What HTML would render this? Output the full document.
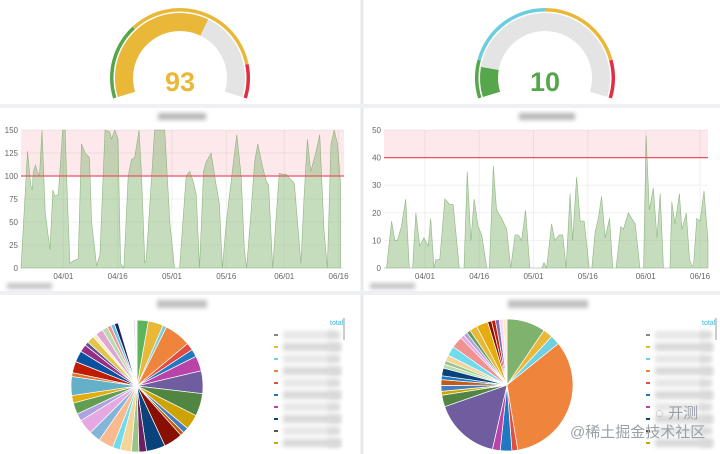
<!DOCTYPE html>
<html><head><meta charset="utf-8">
<style>
html,body{margin:0;padding:0;background:#fff;width:720px;height:454px;overflow:hidden;font-family:"Liberation Sans","Noto Sans CJK SC",sans-serif}
svg{position:absolute;left:0;top:0}
</style></head>
<body>
<svg id="dash" width="720" height="454" viewBox="0 0 720 454">
<defs><filter id="bl" x="-20%" y="-50%" width="140%" height="200%"><feGaussianBlur stdDeviation="2"/></filter></defs>
<rect x="0" y="0" width="720" height="454" fill="#fff"/>
<line x1="362" y1="0" x2="362" y2="454" stroke="#e6e8ec" stroke-width="3"/>
<rect x="0" y="104" width="720" height="4" fill="#eef0f3"/>
<rect x="0" y="291" width="720" height="4" fill="#eef0f3"/>
<g id="g-gauges"></g>
<g id="g-ts1"></g>
<g id="g-ts2"></g>
<g id="g-pies"></g>
<text x="570" y="437" font-size="15" fill="#9aa0a6">@稀土掘金技术社区</text>
<text x="655" y="418" font-size="15" fill="#9aa0a6">◌ 开测</text>
</svg>
<script>
// ---------- data ----------
const gauge1Value = [93];
const gauge1Max = [150];
const gauge1Thresholds = [0, 45, 130];
const gauge2Value = [10];
const gauge2Max = [80];
const gauge2Thresholds = [0, 12, 40, 68];

const ts1Days = [-11.7,-9.9,-9.0,-8.6,-8.3,-7.7,-7.2,-6.6,-5.9,-5.0,-3.7,-2.9,-2.3,-1.4,-0.7,-0.2,0.5,0.9,1.8,2.8,4.1,5.0,6.0,7.2,7.8,9.2,10.1,11.5,12.8,13.3,14.2,15.1,15.8,16.7,17.9,18.8,19.7,20.9,21.6,22.5,22.9,25.2,28.0,29.4,30.7,32.1,33.9,34.9,35.8,36.7,37.6,38.7,39.4,40.8,42.2,43.1,43.9,45.0,46.8,47.9,49.1,50.0,50.6,51.8,52.8,53.7,55.0,56.0,56.7,57.8,59.6,60.6,61.5,62.4,63.8,65.6,66.5,67.4,68.3,69.7,70.8,72.0,72.9,73.9,74.8,75.7,76.6];
const ts1Values = [0,127,90,85,105,112,105,100,150,60,20,85,78,80,120,150,150,100,5,8,10,135,125,120,50,2,15,150,148,140,150,140,5,0,100,118,120,150,100,5,10,150,150,50,0,0,100,105,95,80,0,105,115,125,90,70,0,50,110,145,100,20,0,60,115,135,110,95,90,0,103,102,102,98,92,5,80,140,105,125,145,40,0,135,150,135,90];
const ts2Days = [-11.3,-10.6,-9.2,-8.3,-7.6,-6.5,-5.3,-4.3,-3.4,-2.5,-1.4,-0.3,0.5,0.9,1.6,2.5,3.0,4.1,5.5,6.9,7.8,9.5,10.8,11.7,12.7,13.6,14.7,15.7,17.1,17.8,18.9,19.8,21.2,22.6,23.7,24.9,25.8,26.7,27.8,29.0,30.0,32.3,32.9,33.6,35.0,35.9,37.1,38.1,39.0,40.1,40.8,41.9,42.9,44.0,45.4,46.1,47.0,47.9,48.8,49.8,51.0,51.9,52.8,54.1,54.8,56.2,57.1,58.1,59.4,60.4,61.1,62.0,63.1,64.1,65.0,65.9,67.7,68.2,69.1,70.3,71.0,72.2,73.1,73.7,74.2,75.1,76.0,77.1,78.2];
const ts2Values = [0,0,17,10,10,15,25,0,0,20,8,11,9,8,18,0,3,3,25,23,23,0,0,35,10,25,15,12,0,0,37,21,18,14,0,12,12,10,21,0,0,0,2,0,16,10,12,12,0,27,10,33,17,17,0,0,13,18,26,11,18,0,0,15,14,20,18,16,0,0,48,21,29,11,27,0,0,24,16,27,14,20,3,1,1,18,17,28,10];
const tickLabels = ["04/01","04/16","05/01","05/16","06/01","06/16"];
const tickDays = [0,15,30,45,61,76];
const ts1YTicks = [0,25,50,75,100,125,150];
const ts2YTicks = [0,10,20,30,40,50];
const ts1Threshold = [100];
const ts2Threshold = [40];

const pie1Values = [3,4,1,7,2,2,4,6,6,4,1.5,1,5,5,2,2,3,2,4,3,4,2,3,2,5,1,3,3,2,1,2,1,2,1.5,1,1,1,4,0.5,0.5];
const pie1Colors = ["#5fb35c","#eab839","#6ed0e0","#ef843c","#e24d42","#1f78c1","#ba43a9","#705da0","#508642","#cca300","#447ebc","#c15c17","#890f02","#0a437c","#6d1f62","#9ac48a","#f4d598","#70dbed","#f9ba8f","#82b5d8","#e5a8e2","#aea2e0","#629e51","#e5ac0e","#64b0c8","#e0752d","#bf1b00","#0a50a1","#962d82","#614d93","#e0c74a","#fceaca","#dea6d3","#b7dbab","#f29191","#65c5db","#1f1f6b","#ffffff","#e0e0e0","#f6f6f6"];
const pie2Values = [10,2.5,2.5,35,1.5,3,2,17,3,1,1.5,1.5,1,2,1,1,1.5,2.5,3,1,1,1,2,3,1,1,1,1,1];
const pie2Colors = ["#7eb26d","#eab839","#6ed0e0","#ef843c","#e24d42","#1f78c1","#ba43a9","#705da0","#508642","#cca300","#447ebc","#c15c17","#1f78c1","#0a437c","#b7dbab","#9ac48a","#f4d598","#70dbed","#f29191","#e5a8e2","#aea2e0","#629e51","#eab839","#e5ac0e","#890f02","#bf1b00","#806eb7","#f9d9f9","#fceaca"];
const legendColors = ["#888","#eab839","#6ed0e0","#ef843c","#e24d42","#1f78c1","#ba43a9","#0a437c","#555","#cca300"];

// ---------- helpers ----------
const NS = "http://www.w3.org/2000/svg";
function mk(parent, tag, attrs){const e=document.createElementNS(NS,tag);for(const k in attrs)e.setAttribute(k,attrs[k]);parent.appendChild(e);return e;}
function pt(cx,cy,r,deg){const a=deg*Math.PI/180;return [cx+r*Math.sin(a),cy-r*Math.cos(a)];}
function arcPath(cx,cy,r0,r1,a0,a1){
  const p0=pt(cx,cy,r1,a0),p1=pt(cx,cy,r1,a1),p2=pt(cx,cy,r0,a1),p3=pt(cx,cy,r0,a0);
  const lg=(a1-a0)>180?1:0;
  return `M${p0[0]},${p0[1]}A${r1},${r1} 0 ${lg} 1 ${p1[0]},${p1[1]}L${p2[0]},${p2[1]}A${r0},${r0} 0 ${lg} 0 ${p3[0]},${p3[1]}Z`;
}

// ---------- gauges ----------
const GA = 107;
function drawGauge(g,cx,cy,val,max,ths,thColors,fillColor,name){
  const ang=v=>-GA+2*GA*Math.min(v,max)/max;
  const bg=mk(g,"path",{d:arcPath(cx,cy,47,65,-GA,GA),fill:"#e4e4e4"});
  
  
  const fl=mk(g,"path",{d:arcPath(cx,cy,47,65,-GA,ang(val)),fill:fillColor});
  
  
  for(let i=0;i<ths.length;i++){
    const a0=ang(ths[i]),a1=i+1<ths.length?ang(ths[i+1]):GA;
    const t=mk(g,"path",{d:arcPath(cx,cy,66.5,70,a0,a1),fill:thColors[i]});
    
    
  }
  const tx=mk(g,"text",{x:cx,y:cy+13,"text-anchor":"middle","font-size":"27","font-weight":"bold",fill:fillColor});
  tx.textContent=val;
  
  
}
const gg=document.getElementById("g-gauges");
drawGauge(gg,180,78,gauge1Value[0],gauge1Max[0],gauge1Thresholds,["#56a64b","#eab839","#e02f44"],"#eab839","gauge-left");
drawGauge(gg,545,78,gauge2Value[0],gauge2Max[0],gauge2Thresholds,["#56a64b","#6ccde0","#eab839","#e02f44"],"#56a64b","gauge-right");

// ---------- time series ----------
function drawTS(g,days,vals,yTicks,th,x0,x1,d0,d1,name,titleX,titleW){
  const yTop=130,yBot=268,yMax=yTicks[yTicks.length-1];
  const X=d=>x0+(d-d0)/(d1-d0)*(x1-x0);
  const Y=v=>yBot-v/yMax*(yBot-yTop);
  const title=mk(g,"rect",{x:titleX,y:113,width:titleW,height:7,fill:"#b8b8b8",filter:"url(#bl)"});
  
  
  yTicks.forEach(t=>{
    const l=mk(g,"line",{x1:x0,x2:x1,y1:Y(t),y2:Y(t),stroke:"#f0f0f0"});
    
    
    const tx=mk(g,"text",{x:x0-3,y:Y(t)+3,"text-anchor":"end","font-size":"8",fill:"#666"});
    tx.textContent=t;
    
    
  });
  tickDays.forEach((d,i)=>{
    const l=mk(g,"line",{x1:X(d),x2:X(d),y1:yTop,y2:yBot,stroke:"#f0f0f0"});
    
    
    const tx=mk(g,"text",{x:X(d),y:yBot+11,"text-anchor":"middle","font-size":"8",fill:"#666"});
    tx.textContent=tickLabels[i];
    
    
  });
  const band=mk(g,"rect",{x:x0,y:Y(yMax),width:x1-x0,height:Y(th[0])-Y(yMax),fill:"rgba(242,73,92,0.12)"});
  
  
  let d=`M${X(days[0])},${yBot}`;
  days.forEach((dd,i)=>{d+=`L${X(dd)},${Y(vals[i])}`;});
  d+=`L${X(days[days.length-1])},${yBot}Z`;
  const area=mk(g,"path",{d:d,fill:"rgba(126,178,109,0.45)",stroke:"rgba(110,160,95,0.7)","stroke-width":"0.6"});
  
  
  const tl=mk(g,"line",{x1:x0,x2:x1,y1:Y(th[0]),y2:Y(th[0]),stroke:"#e8555f","stroke-width":"1.2"});
  
  
  const lg=mk(g,"rect",{x:x0-14,y:283,width:45,height:6,fill:"#c4c4c4",filter:"url(#bl)"});
  
  
}
drawTS(document.getElementById("g-ts1"),ts1Days,ts1Values,ts1YTicks,ts1Threshold,21,344,-11.7,77.5,"chart-left",158,48);
drawTS(document.getElementById("g-ts2"),ts2Days,ts2Values,ts2YTicks,ts2Threshold,384,708,-11.3,78.2,"chart-right",519,56);

// ---------- pies ----------
function drawPie(g,cx,cy,r,vals,cols,name,titleX,titleW,lx){
  const tot=vals.reduce((a,b)=>a+b,0);
  const title=mk(g,"rect",{x:titleX,y:300,width:titleW,height:8,fill:"#c0c0c0",filter:"url(#bl)"});
  
  
  let a=0;
  vals.forEach((v,i)=>{
    const a1=a+v/tot*360;
    const p0=pt(cx,cy,r,a),p1=pt(cx,cy,r,a1);
    const s=mk(g,"path",{d:`M${cx},${cy}L${p0[0]},${p0[1]}A${r},${r} 0 ${(a1-a)>180?1:0} 1 ${p1[0]},${p1[1]}Z`,fill:cols[i%cols.length],stroke:"#fff","stroke-width":"0.7"});
    
    
    a=a1;
  });
  const t=mk(g,"text",{x:lx+56,y:325,"font-size":"7",fill:"#33b5e5"});
  t.textContent="total";
  
  
  legendColors.forEach((c,i)=>{
    const y=335+i*12;
    const dsh=mk(g,"rect",{x:lx,y:y-1,width:4,height:2,fill:c});
    
    
    const b=mk(g,"rect",{x:lx+9,y:y-4,width:i%2?58:50,height:8,fill:i%2?"#d8d8d8":"#e6e6e6",filter:"url(#bl)"});
    
    
    const v=mk(g,"rect",{x:lx+54,y:y-4,width:12,height:8,fill:"#dadada",filter:"url(#bl)"});
    
    
  });
  const sb=mk(g,"rect",{x:lx+69,y:318,width:2,height:22,fill:"#ccc"});
  
  
}
const gp=document.getElementById("g-pies");
drawPie(gp,137,386,66,pie1Values,pie1Colors,"pie-left",157,50,274);
drawPie(gp,507,385,66,pie2Values,pie2Colors,"pie-right",508,80,646);
</script>
</body></html>
